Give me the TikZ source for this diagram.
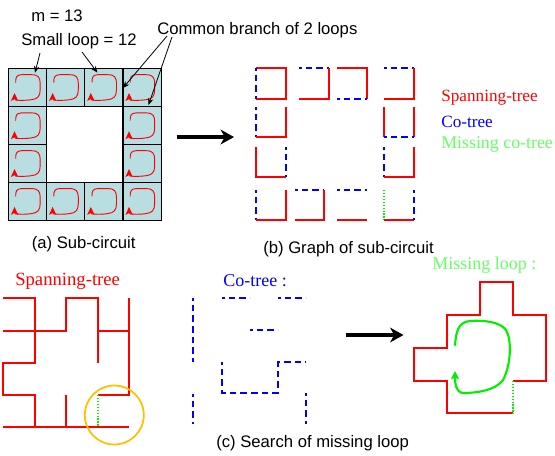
\documentclass[tikz,border=0pt]{standalone}
\usepackage{fontspec}
\setmainfont{Liberation Serif}
\setsansfont{Liberation Sans}
\usetikzlibrary{arrows.meta}
\newcommand{\szfont}[1]{\fontsize{#1}{#1}\selectfont}
\definecolor{cellfill}{HTML}{B8DEE2}
\definecolor{mygreen}{HTML}{00F000}
\definecolor{lightgr}{HTML}{66FF66}
\definecolor{ringcol}{HTML}{FFC000}
\tikzset{
  lbl/.style={font=\sffamily\szfont{12.5pt},text=black,inner sep=0pt,anchor=west},
  cell/.style={draw=black,line width=0.85pt,fill=cellfill},
  redl/.style={draw=red,line width=1.6pt,line cap=butt,line join=miter},
  bluel/.style={draw=blue,line width=1.6pt,dash pattern=on 5pt off 3pt,dash phase=3pt},
  greenl/.style={draw=mygreen,line width=1.6pt,dash pattern=on 1.1pt off 1.1pt},
  pointer/.style={draw=black,line width=0.6pt,-{Stealth[length=5pt,width=4pt]}},
  bigarrow/.style={draw=black,line width=2.8pt,-{Stealth[length=10pt,width=11pt,inset=3pt]}},
  looparrow/.style={draw=red,line width=0.7pt},
}
\newcommand{\smallloop}[2]{%
  \begin{scope}[shift={(#1,#2)}]
    \draw[looparrow] (7.2,14) .. controls (7,9) and (8,6.3) .. (13,6.2) -- (23,6.2)
      .. controls (30,6.2) and (31.5,9) .. (31.7,15) -- (31.7,21)
      .. controls (31.7,28) and (29,30.5) .. (23,31.2) .. controls (18,32) and (11,32) .. (7,31.5) -- (6,27);
    \fill[red] (6,24.5) -- (9.8,32.5) -- (6,30.6) -- (2.4,32.5) -- cycle;
  \end{scope}}
\begin{document}
\begin{tikzpicture}[x=0.75pt,y=-0.75pt]
\useasboundingbox (0,0) rectangle (555,455);
% cells
\foreach \x/\y in {8.5/68.5,46.6/68.5,84.8/68.5,123/68.5,
                   8.5/106.7,123/106.7,8.5/144.5,123/144.5,
                   8.5/182.4,46.6/182.4,84.8/182.4,123/182.4}{
  \draw[cell] (\x,\y) rectangle ++(38.2,38);
  \smallloop{\x}{\y}
}
% top labels
\node[lbl] (mlabel) at (31,16) {m = 13};
\node[lbl] (smalllabel) at (21,41) {Small loop = 12};
\node[lbl] (commonlabel) at (157,30) {Common branch of 2 loops};
\coordinate (sa) at (40,53); \coordinate (sae) at (35,72.7);
\coordinate (sb) at (82,52); \coordinate (sbe) at (97.5,72.7);
\coordinate (ca) at (167,36); \coordinate (cae) at (123,88);
\coordinate (cb) at (172,37); \coordinate (cbe) at (148.5,105);
\draw[pointer] (sa) -- (sae);
\draw[pointer] (sb) -- (sbe);
\draw[pointer] (ca) -- (cae);
\draw[pointer] (cb) -- (cbe);
\coordinate (ba) at (177,137); \coordinate (bae) at (234,137);
\draw[bigarrow] (ba) -- (bae);
\node[lbl] (caption a) at (31.5,244) {(a) Sub-circuit};
\node[lbl] (caption b) at (263,249) {(b) Graph of sub-circuit};
\node[lbl] (caption c) at (216,443) {(c) Search of missing loop};
% graph of sub-circuit
\draw[redl] (256,68) -- (286,68) -- (286,99) -- (256,99);
\draw[bluel] (256,68) -- (256,99);
\draw[bluel] (299,68) -- (329,68);
\draw[redl] (329,68) -- (329,99) -- (299,99);
\draw[redl] (337,68) -- (367,68) -- (367,99);
\draw[bluel] (337,99) -- (367,99);
\draw[bluel] (384,68) -- (414,68);
\draw[redl] (414,68) -- (414,99) -- (384,99);
\draw[bluel] (256,107) -- (256,137);
\draw[redl] (256,137) -- (286,137) -- (286,107);
\draw[redl] (384,137) -- (384,107);
\draw[redl] (414,107) -- (414,137);
\draw[bluel] (384,137) -- (414,137);
\draw[redl] (256,147) -- (256,177) -- (286,177);
\draw[bluel] (286,147) -- (286,177);
\draw[bluel] (384,147) -- (384,177);
\draw[redl] (384,177) -- (414,177) -- (414,147);
\draw[bluel] (256,190) -- (256,220);
\draw[redl] (256,220) -- (286,220) -- (286,190);
\draw[bluel] (295,190) -- (324,190);
\draw[redl] (324,190) -- (324,220) -- (295,220);
\draw[bluel] (337,190) -- (367,190);
\draw[redl] (337,220) -- (367,220);
\draw[greenl] (384,190) -- (384,220);
\draw[redl] (384,220) -- (414,220);
\draw[bluel] (414,190) -- (414,220);
% legend
\node[inner sep=0pt,anchor=west,text=red,font=\szfont{12.9pt}] (leg1) at (441,98) {Spanning-tree};
\node[inner sep=0pt,anchor=west,text=blue,font=\szfont{12.9pt}] (leg2) at (441,122) {Co-tree};
\node[inner sep=0pt,anchor=west,text=lightgr,font=\szfont{13.4pt}] (leg3) at (441,145) {Missing co-tree};
% spanning tree
\node[inner sep=0pt,anchor=west,text=red,font=\szfont{14pt}] (sptitle) at (15,281) {Spanning-tree};
\draw[redl] (3.3,298) -- (35,298) -- (35,363) -- (3.3,363) -- (3.3,395) -- (35,395) -- (35,427);
\draw[redl] (3.3,331) -- (66,331) -- (66,298) -- (98,298) -- (98,363);
\draw[redl] (98,331) -- (129,331);
\draw[redl] (129,298) -- (129,395) -- (98,395);
\draw[greenl] (98,395) -- (98,427);
\draw[redl] (3.3,427) -- (129,427);
\draw[redl] (66,395) -- (66,427);
\draw[draw=ringcol,line width=1.3pt] (114.3,415) circle[radius=29.5];
% co-tree
\node[inner sep=0pt,anchor=west,text=blue,font=\szfont{13.5pt}] (cotitle) at (223,281) {Co-tree :};
\draw[bluel] (192.7,298) -- (192.7,362);
\draw[bluel] (192.7,394) -- (192.7,424);
\draw[bluel] (222,298) -- (250,298);
\draw[bluel] (278,298) -- (306,298);
\draw[bluel] (250,330) -- (278,330);
\draw[bluel] (222,362) -- (222,393) -- (278,393) -- (278,362) -- (306,362);
\draw[bluel] (306,393) -- (306,424);
% arrow
\coordinate (bb) at (346,335); \coordinate (bbe) at (403.5,335);
\draw[bigarrow] (bb) -- (bbe);
% missing loop
\node[inner sep=0pt,anchor=west,text=lightgr,font=\szfont{13.5pt}] (mltitle) at (432,265) {Missing loop :};
\draw[redl] (513,413.3) -- (447.3,413.3) -- (447.3,381) -- (414,381) -- (414,348) -- (447.3,348) -- (447.3,315) -- (480,315) -- (480,282) -- (513,282) -- (513,315) -- (546,315) -- (546,381) -- (513,381);
\draw[greenl] (513,381) -- (513,413.3);
\draw[draw=mygreen,line width=1.6pt,-{Stealth[length=6pt,width=6pt,inset=1pt]}]
  (455,345.7) .. controls (456,330) and (459,322) .. (470,321)
  .. controls (485,320) and (500,322) .. (506,330)
  .. controls (512,340) and (511,365) .. (503,380)
  .. controls (495,391) and (475,393) .. (463,393)
  .. controls (455,392) and (455,382) .. (455,371);
\end{tikzpicture}
\end{document}
